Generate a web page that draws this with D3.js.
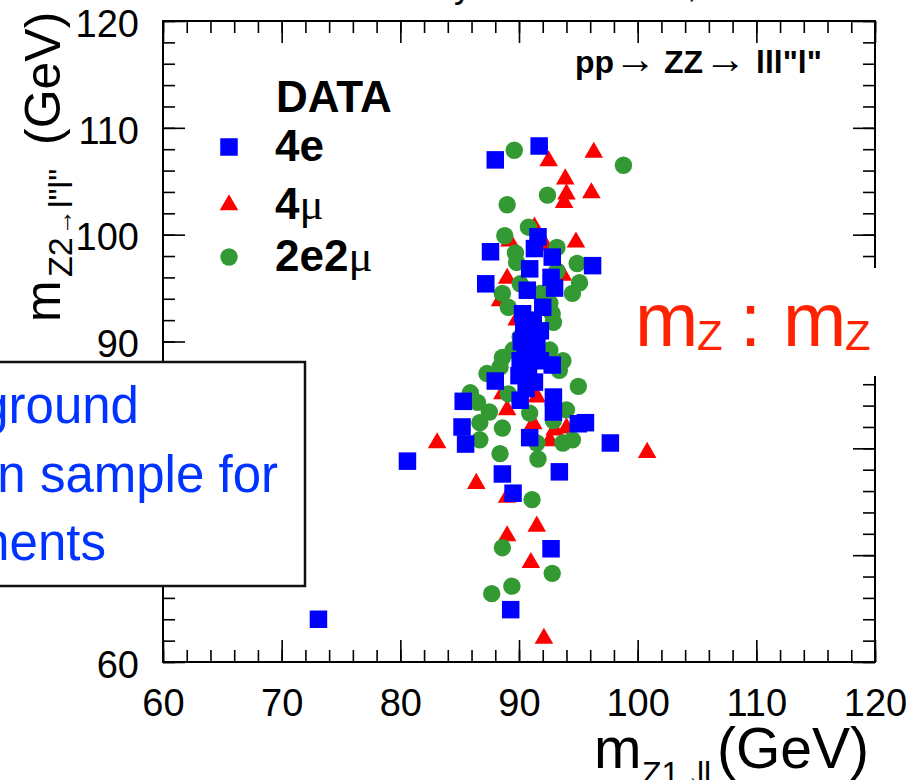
<!DOCTYPE html>
<html>
<head>
<meta charset="utf-8">
<script src="https://cdn.jsdelivr.net/npm/d3@7"></script>
<style>
  body{margin:0;background:#fff;}
  svg{display:block;font-family:"Liberation Sans",Arial,Helvetica,sans-serif;}
</style>
</head>
<body>
<svg id="chart" width="914" height="780"></svg>
<script>
// m(Z1) vs m(Z2) for 4l candidates, values in GeV
const fourE=[[88.0,107.0],[91.7,108.3],[87.6,98.4],[87.2,95.4],[91.6,99.8],[91.3,98.7],[92.8,97.9],
  [90.9,96.8],[92.7,96.0],[93.0,95.0],[90.7,94.8],[96.2,97.1],[90.3,92.6],[92.0,93.2],[91.2,92.0],
  [90.1,88.2],[90.9,89.4],[92.8,87.8],[88.0,86.3],[90.7,90.7],[91.8,91.0],[85.3,84.4],[85.2,82.0],
  [85.5,80.4],[90.1,84.5],[90.3,87.6],[92.9,84.8],[92.9,83.4],[95.0,82.3],[95.6,82.4],[90.9,81.0],
  [97.7,80.5],[88.6,77.6],[93.4,77.8],[89.5,75.8],[92.7,70.6],[89.3,64.9],[80.6,78.8],[73.1,64.0],
  [90.5,89.0],[91.2,88.6],[90.2,90.0],[91.5,89.8],[90.8,87.3],[91.3,86.2],[90.6,85.6],[91.8,88.2],
  [90.0,86.8],[91.0,91.8],[90.4,91.3]];
const fourMu=[[92.5,106.9],[96.3,107.7],[93.9,105.2],[94.0,103.8],[93.8,103.0],[96.1,103.9],[94.8,99.3],
  [91.3,100.7],[89.2,99.4],[89.0,95.9],[93.7,96.2],[92.2,99.0],[88.4,93.8],[89.8,92.0],[83.1,80.5],
  [100.8,79.6],[86.4,76.7],[89.0,75.4],[91.5,72.7],[89.0,71.8],[91.0,69.3],[92.1,62.2],[89.0,83.6],
  [91.2,82.3],[92.6,80.7],[93.0,81.7],[88.6,85.1],[91.5,84.8],[94.0,81.9]];
const twoETwoMu=[[89.6,107.9],[98.8,106.5],[92.4,103.7],[89.0,102.8],[88.8,99.9],[90.8,100.7],[93.2,98.8],
  [89.7,98.3],[89.8,97.4],[94.9,97.3],[95.1,95.5],[94.5,94.5],[88.6,94.5],[89.1,93.2],[92.6,93.6],
  [92.8,92.6],[91.2,91.7],[88.6,88.5],[93.7,88.2],[89.5,89.2],[92.6,89.2],[91.5,90.1],[90.1,90.4],
  [92.9,91.8],[91.8,94.5],[90.1,95.4],[93.2,96.6],[85.9,85.2],[86.5,84.3],[87.5,83.4],[86.7,82.4],
  [88.6,81.9],[86.7,80.8],[95.0,85.8],[94.0,83.6],[93.7,80.5],[94.5,80.8],[91.6,79.0],[88.4,79.5],
  [91.5,80.5],[90.9,83.3],[92.9,82.6],[91.1,75.2],[88.6,70.7],[92.8,68.3],[89.4,67.1],[87.7,66.4],
  [87.3,87.0],[88.4,87.6],[93.4,87.3],[89.1,85.1]];
const majorTicks=[60,70,80,90,100,110,120];
const minorTicks=d3.range(60,121,2);
const boxLines=["No background","Clean sample for","measurements"];

const svg=d3.select("#chart");
const x=d3.scaleLinear().domain([60,120]).range([163,875]);
const y=d3.scaleLinear().domain([60,120]).range([662,21]);

// title (cut off at the top of the slide)
svg.append("text").attr("x",472).attr("y",-3).attr("text-anchor","end").attr("font-size",36).text("CMS Preliminary");
svg.append("text").attr("x",697).attr("y",-3).attr("text-anchor","end").attr("font-size",36).text("√s = 7 TeV,");

function axisG(axis,tx,ty,labels){
  const g=svg.append("g").attr("transform",`translate(${tx},${ty})`).call(axis);
  g.select(".domain").remove();
  g.selectAll("line").attr("stroke","#000").attr("stroke-width",1.6);
  g.selectAll("text").attr("font-size",38).attr("fill","#000").attr("font-family","Liberation Sans,Arial,sans-serif");
  if(!labels) g.selectAll("text").remove();
  return g;
}
const noFmt=()=>"";
// bottom
axisG(d3.axisBottom(x).tickValues(minorTicks).tickSize(-12).tickFormat(noFmt),0,662,false);
axisG(d3.axisBottom(x).tickValues(majorTicks).tickSize(-22).tickPadding(27),0,662,true);
// top
axisG(d3.axisTop(x).tickValues(minorTicks).tickSize(-12).tickFormat(noFmt),0,21,false);
axisG(d3.axisTop(x).tickValues(majorTicks).tickSize(-22).tickFormat(noFmt),0,21,false);
// left
axisG(d3.axisLeft(y).tickValues(minorTicks).tickSize(-12).tickFormat(noFmt),163,0,false);
axisG(d3.axisLeft(y).tickValues(majorTicks).tickSize(-22).tickPadding(24),163,0,true)
  .selectAll("text").attr("dy","0.4em");
// right
axisG(d3.axisRight(y).tickValues(minorTicks).tickSize(-12).tickFormat(noFmt),875,0,false);
axisG(d3.axisRight(y).tickValues(majorTicks).tickSize(-22).tickFormat(noFmt),875,0,false);

svg.append("rect").attr("x",x(60)).attr("y",y(120)).attr("width",x(120)-x(60)).attr("height",y(60)-y(120))
  .attr("fill","none").attr("stroke","#000").attr("stroke-width",2);

// axis titles
const xt=svg.append("text").attr("y",768).attr("font-size",57);
xt.append("tspan").attr("x",594).text("m");
xt.append("tspan").attr("x",642).attr("font-size",32).attr("dy",16).text("Z1");
xt.append("tspan").attr("x",678).attr("font-size",22).text("→");
xt.append("tspan").attr("x",697).attr("font-size",32).text("ll");
xt.append("tspan").attr("x",717).attr("dy",-16).text("(GeV)");

const yt=svg.append("text").attr("transform","translate(60,322) rotate(-90)").attr("font-size",50);
yt.append("tspan").attr("x",0).text("m");
yt.append("tspan").attr("x",45).attr("font-size",34).attr("dy",12).text("Z2");
yt.append("tspan").attr("x",87).attr("font-size",26).text("→");
yt.append("tspan").attr("x",114).attr("font-size",34).text("l\"l\"");
yt.append("tspan").attr("x",177).attr("dy",-12).text("(GeV)");

// markers
const sq=d3.symbol(d3.symbolSquare,17.5*17.5)();
const tri=d3.symbol(d3.symbolTriangle,150)();
const circ=d3.symbol(d3.symbolCircle,Math.PI*8.7*8.7)();
const series=[
  {data:fourMu,path:tri,color:"#ff0000"},
  {data:twoETwoMu,path:circ,color:"#339933"},
  {data:fourE,path:sq,color:"#0000ff"}
];
series.forEach(s=>{
  svg.append("g").selectAll("path").data(s.data).join("path")
    .attr("d",s.path).attr("fill",s.color)
    .attr("transform",d=>`translate(${x(d[0])},${y(d[1])})`);
});

// legend
const lg=svg.append("g").attr("font-weight","bold").attr("font-size",44);
lg.append("text").attr("x",276).attr("y",112).text("DATA");
const legItems=[
  {path:sq,color:"#0000ff",label:"4e",mu:false,cy:147},
  {path:tri,color:"#ff0000",label:"4",mu:true,cy:205},
  {path:circ,color:"#339933",label:"2e2",mu:true,cy:257}
];
legItems.forEach(it=>{
  lg.append("path").attr("d",it.path).attr("fill",it.color).attr("transform",`translate(229,${it.cy})`);
  const t=lg.append("text").attr("x",275).attr("y",it.cy+14).text(it.label);
  if(it.mu) t.append("tspan").attr("font-weight","normal").attr("font-family","Liberation Serif,serif").attr("font-size",45).text("μ");
});

// process label
const pl=svg.append("text").attr("y",73).attr("font-size",32).attr("font-weight","bold");
pl.append("tspan").attr("x",575).text("pp");
pl.append("tspan").attr("x",614).attr("font-weight","normal").attr("font-size",42).text("→");
pl.append("tspan").attr("x",664).text("ZZ");
pl.append("tspan").attr("x",704).attr("font-weight","normal").attr("font-size",42).text("→");
pl.append("tspan").attr("x",756).text("lll\"l\"");

// slide overlays
svg.append("rect").attr("x",626).attr("y",268).attr("width",300).attr("height",108).attr("fill","#fff");
const mz=svg.append("text").attr("y",346).attr("fill","#ff2200").attr("font-size",76);
mz.append("tspan").attr("x",635).text("m");
mz.append("tspan").attr("x",697).attr("dy",4).attr("font-size",42).text("Z");
mz.append("tspan").attr("x",740).attr("dy",-4).text(":");
mz.append("tspan").attr("x",783).text("m");
mz.append("tspan").attr("x",845).attr("dy",4).attr("font-size",42).text("Z");

svg.append("rect").attr("x",-10).attr("y",362).attr("width",315).attr("height",224)
  .attr("fill","#fff").attr("stroke","#111").attr("stroke-width",2.5);
svg.append("g").selectAll("text").data(boxLines).join("text")
  .attr("x",(d,i)=>[139,278,106][i]).attr("y",(d,i)=>423+i*68.5)
  .attr("text-anchor","end").attr("font-size",51).attr("fill","#0033ff").text(d=>d);
</script>
</body>
</html>
